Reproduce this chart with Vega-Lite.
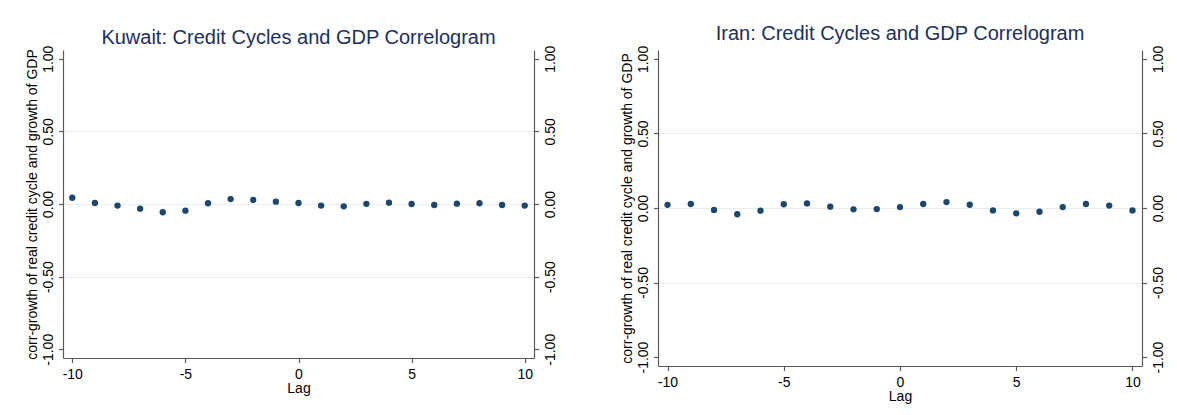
{
  "$schema": "https://vega.github.io/schema/vega-lite/v6.json",
  "background": "white",
  "padding": {"left": 25, "top": 24, "right": 4, "bottom": 4},
  "spacing": 62,
  "config": {
    "font": "Liberation Sans",
    "view": {"stroke": null},
    "title": {"fontSize": 20, "fontWeight": "normal", "color": "#1c2f5c", "anchor": "middle", "frame": "group"},
    "axis": {
      "domainColor": "#5a5a5a",
      "domainWidth": 1.2,
      "tickColor": "#5a5a5a",
      "tickWidth": 1.2,
      "tickSize": 4.5,
      "labelColor": "#000000",
      "labelFontSize": 14,
      "titleColor": "#000000",
      "titleFontSize": 14,
      "titleFontWeight": "normal",
      "grid": false
    }
  },
  "hconcat": [
    {
      "title": {"text": "Kuwait: Credit Cycles and GDP Correlogram", "offset": -2.6},
      "width": 471,
      "height": 308,
      "data": {"values": [
        {"lag": -10, "corr": 0.043}, {"lag": -9, "corr": 0.007}, {"lag": -8, "corr": -0.011},
        {"lag": -7, "corr": -0.032}, {"lag": -6, "corr": -0.057}, {"lag": -5, "corr": -0.046},
        {"lag": -4, "corr": 0.005}, {"lag": -3, "corr": 0.034}, {"lag": -2, "corr": 0.028},
        {"lag": -1, "corr": 0.016}, {"lag": 0, "corr": 0.007}, {"lag": 1, "corr": -0.011},
        {"lag": 2, "corr": -0.016}, {"lag": 3, "corr": 0.001}, {"lag": 4, "corr": 0.009},
        {"lag": 5, "corr": 0.0}, {"lag": 6, "corr": -0.007}, {"lag": 7, "corr": 0.002},
        {"lag": 8, "corr": 0.005}, {"lag": 9, "corr": -0.007}, {"lag": 10, "corr": -0.011}
      ]},
      "resolve": {"axis": {"y": "independent"}},
      "encoding": {
        "x": {"field": "lag", "type": "quantitative", "title": "Lag",
              "scale": {"domain": [-10.41, 10.41], "nice": false, "zero": false},
              "axis": {"values": [-10, -5, 0, 5, 10], "labelPadding": 4.5, "titlePadding": 0,
                       "labelExpr": "datum.value < 0 ? '-' + (-datum.value) : '' + datum.value"}}
      },
      "layer": [
        {
          "mark": {"type": "point", "opacity": 0},
          "encoding": {
            "y": {"field": "corr", "type": "quantitative", "scale": {"domain": [-1.06, 1.06], "nice": false},
                  "axis": {"values": [-0.5, 0, 0.5], "grid": true, "gridColor": "#e6eef0", "gridWidth": 1.2, "labels": false, "ticks": false, "domain": false, "title": null}}
          }
        },
        {
          "mark": {"type": "point", "opacity": 0},
          "encoding": {
            "y": {"field": "corr", "type": "quantitative",
                  "axis": {"orient": "right", "values": [-1, -0.5, 0, 0.5, 1], "labelAngle": -90, "labelPadding": 5, "title": null,
                           "labelExpr": "datum.value < 0 ? '-' + format(-datum.value, '.2f') : format(datum.value, '.2f')"}}
          }
        },
        {
          "mark": {"type": "point", "filled": true, "size": 40, "color": "#1a476f", "opacity": 1},
          "encoding": {
            "y": {"field": "corr", "type": "quantitative", "title": "corr-growth of real credit cycle and growth of GDP",
                  "axis": {"orient": "left", "values": [-1, -0.5, 0, 0.5, 1], "labelAngle": -90, "labelPadding": 3, "titlePadding": 2,
                           "labelExpr": "datum.value < 0 ? '-' + format(-datum.value, '.2f') : format(datum.value, '.2f')"}}
          }
        }
      ]
    },
    {
      "title": {"text": "Iran: Credit Cycles and GDP Correlogram", "offset": 1.1},
      "width": 484,
      "height": 316,
      "data": {"values": [
        {"lag": -10, "corr": 0.021}, {"lag": -9, "corr": 0.027}, {"lag": -8, "corr": -0.013},
        {"lag": -7, "corr": -0.042}, {"lag": -6, "corr": -0.018}, {"lag": -5, "corr": 0.025},
        {"lag": -4, "corr": 0.031}, {"lag": -3, "corr": 0.009}, {"lag": -2, "corr": -0.009},
        {"lag": -1, "corr": -0.007}, {"lag": 0, "corr": 0.006}, {"lag": 1, "corr": 0.027},
        {"lag": 2, "corr": 0.040}, {"lag": 3, "corr": 0.022}, {"lag": 4, "corr": -0.016},
        {"lag": 5, "corr": -0.036}, {"lag": 6, "corr": -0.025}, {"lag": 7, "corr": 0.006},
        {"lag": 8, "corr": 0.027}, {"lag": 9, "corr": 0.016}, {"lag": 10, "corr": -0.016}
      ]},
      "resolve": {"axis": {"y": "independent"}},
      "encoding": {
        "x": {"field": "lag", "type": "quantitative", "title": "Lag",
              "scale": {"domain": [-10.41, 10.41], "nice": false, "zero": false},
              "axis": {"values": [-10, -5, 0, 5, 10], "labelPadding": 4.5, "titlePadding": 0,
                       "labelExpr": "datum.value < 0 ? '-' + (-datum.value) : '' + datum.value"}}
      },
      "layer": [
        {
          "mark": {"type": "point", "opacity": 0},
          "encoding": {
            "y": {"field": "corr", "type": "quantitative", "scale": {"domain": [-1.06, 1.06], "nice": false},
                  "axis": {"values": [-0.5, 0, 0.5], "grid": true, "gridColor": "#e6eef0", "gridWidth": 1.2, "labels": false, "ticks": false, "domain": false, "title": null}}
          }
        },
        {
          "mark": {"type": "point", "opacity": 0},
          "encoding": {
            "y": {"field": "corr", "type": "quantitative",
                  "axis": {"orient": "right", "values": [-1, -0.5, 0, 0.5, 1], "labelAngle": -90, "labelPadding": 5, "title": null,
                           "labelExpr": "datum.value < 0 ? '-' + format(-datum.value, '.2f') : format(datum.value, '.2f')"}}
          }
        },
        {
          "mark": {"type": "point", "filled": true, "size": 40, "color": "#1a476f", "opacity": 1},
          "encoding": {
            "y": {"field": "corr", "type": "quantitative", "title": "corr-growth of real credit cycle and growth of GDP",
                  "axis": {"orient": "left", "values": [-1, -0.5, 0, 0.5, 1], "labelAngle": -90, "labelPadding": 3, "titlePadding": 2,
                           "labelExpr": "datum.value < 0 ? '-' + format(-datum.value, '.2f') : format(datum.value, '.2f')"}}
          }
        }
      ]
    }
  ]
}
